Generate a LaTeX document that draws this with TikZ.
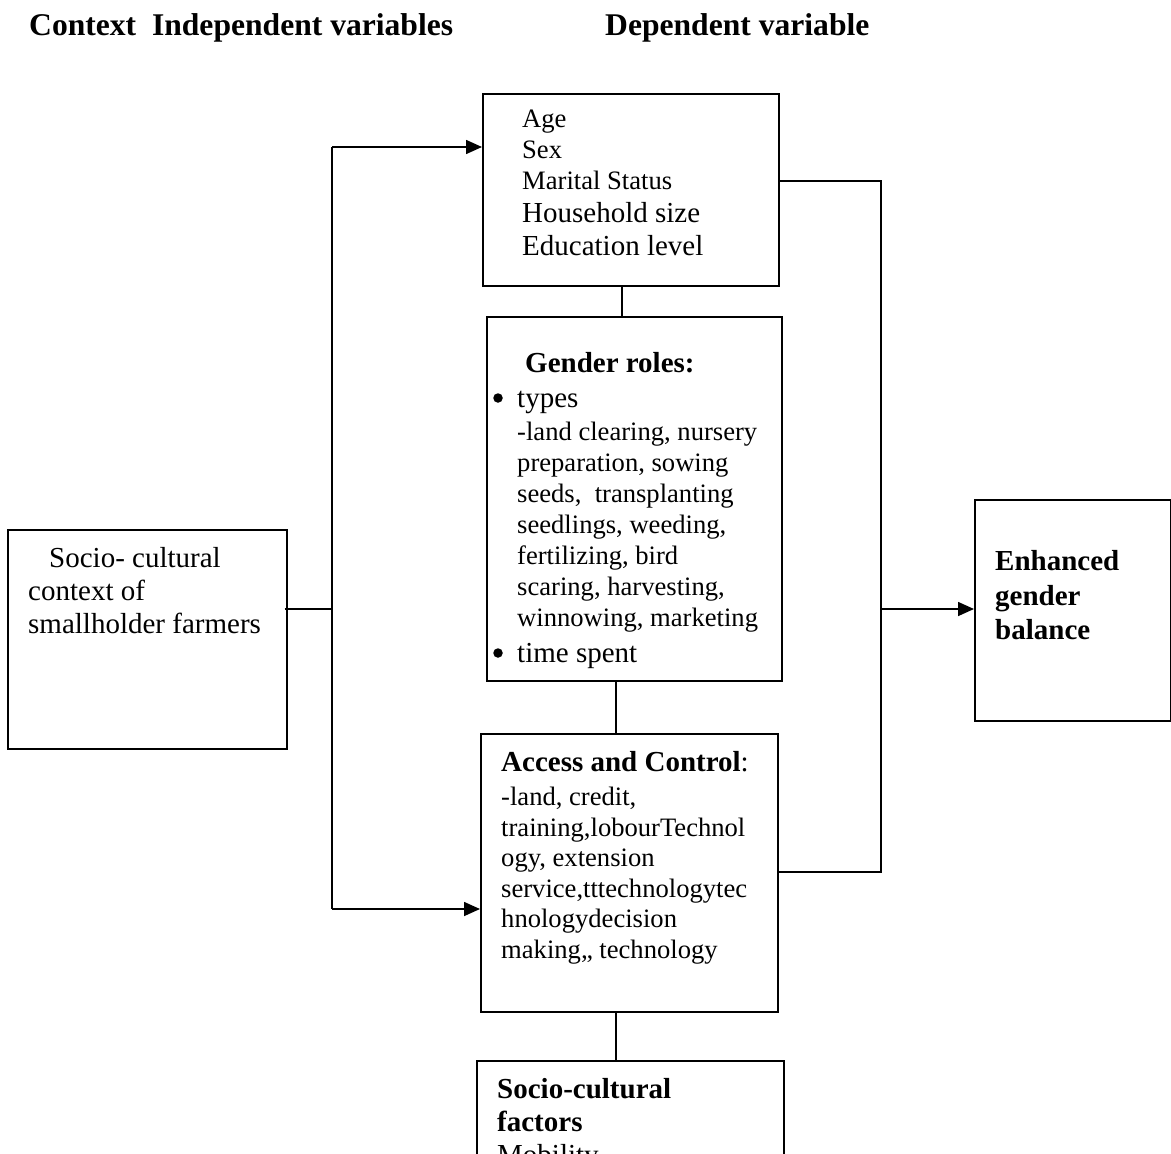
\documentclass[tikz,border=0pt]{standalone}
\usepackage{fontspec}
\setmainfont{Liberation Serif}
\usetikzlibrary{arrows.meta}
\tikzset{
  box/.style={draw, line width=1.6pt, rectangle, inner sep=0pt, anchor=north west},
  conn/.style={line width=1.6pt},
  arr/.style={line width=1.6pt, -{Triangle[length=16pt,width=14pt]}},
  txt/.style={anchor=base west, inner sep=0pt},
  bul/.style={circle, fill, inner sep=0pt, minimum size=9.5pt},
  fsmall/.style={font=\fontsize{26.6}{30.6}\selectfont},
  fnorm/.style={font=\fontsize{29}{33.4}\selectfont},
  fbold/.style={font=\fontsize{29}{33.4}\selectfont\bfseries},
  fhead/.style={font=\fontsize{31.6}{36}\selectfont\bfseries}
}
\begin{document}
\begin{tikzpicture}[x=1pt,y=-1pt]
\useasboundingbox (0,0) rectangle (1171,1154);
\clip (0,0) rectangle (1171,1154);
\fill[white] (0,0) rectangle (1171,1154);

% headers
\node[txt,fhead] (h1) at (29,35) {Context\ \ Independent variables};
\node[txt,fhead] (h2) at (605,35) {Dependent variable};

% boxes
\node[box, minimum width=279pt, minimum height=219pt] (L) at (7,529) {};
\node[box, minimum width=296pt, minimum height=192pt] (A) at (482,93) {};
\node[box, minimum width=295pt, minimum height=364pt] (B) at (486,316) {};
\node[box, minimum width=297pt, minimum height=278pt] (C) at (480,733) {};
\node[box, minimum width=307pt, minimum height=160pt] (D) at (476,1060) {};
\node[box, minimum width=196pt, minimum height=221pt] (E) at (974,499) {};

% left box text
\node[txt,fnorm] (l1) at (49,567) {Socio- cultural};
\node[txt,fnorm] (l2) at (28,600) {context of};
\node[txt,fnorm] (l3) at (28,633) {smallholder farmers};

% box A text
\node[txt,fsmall] (a1) at (522,127) {Age};
\node[txt,fsmall] (a2) at (522,158) {Sex};
\node[txt,fsmall] (a3) at (522,189) {Marital Status};
\node[txt,fnorm] (a4) at (522,222) {Household size};
\node[txt,fnorm] (a5) at (522,255) {Education level};

% box B text
\node[txt,fbold] (b0) at (525,372) {Gender roles:};
\node[bul] (b1) at (498,398) {};
\node[txt,fnorm] (b1t) at (517,407) {types};
\node[txt,fsmall] (b2) at (517,440) {-land clearing, nursery};
\node[txt,fsmall] (b3) at (517,471) {preparation, sowing};
\node[txt,fsmall] (b4) at (517,502) {seeds,\ \ transplanting};
\node[txt,fsmall] (b5) at (517,533) {seedlings, weeding,};
\node[txt,fsmall] (b6) at (517,564) {fertilizing, bird};
\node[txt,fsmall] (b7) at (517,595) {scaring, harvesting,};
\node[txt,fsmall] (b8) at (517,626) {winnowing, marketing};
\node[bul] (b9) at (498,653) {};
\node[txt,fnorm] (b9t) at (517,662) {time spent};

% box C text
\node[txt,fnorm] (c0) at (501,771) {\textbf{Access and Control}:};
\node[txt,fsmall] (c1) at (501,805) {-land, credit,};
\node[txt,fsmall] (c2) at (501,836) {training,lobourTechnol};
\node[txt,fsmall] (c3) at (501,866) {ogy, extension};
\node[txt,fsmall] (c4) at (501,897) {service,tttechnologytec};
\node[txt,fsmall] (c5) at (501,927) {hnologydecision};
\node[txt,fsmall] (c6) at (501,958) {making,, technology};

% box D text
\node[txt,fbold] (d1) at (497,1098) {Socio-cultural};
\node[txt,fbold] (d2) at (497,1131) {factors};
\node[txt,fnorm] (d3) at (497,1164) {Mobility};

% box E text
\node[txt,fbold] (e1) at (995,570) {Enhanced};
\node[txt,fbold] (e2) at (995,605) {gender};
\node[txt,fbold] (e3) at (995,639) {balance};

% connectors between stacked boxes
\coordinate (jAB) at (622,0);
\coordinate (jBC) at (616,0);
\draw[conn] (A.south -| jAB) -- (B.north -| jAB);
\draw[conn] (B.south -| jBC) -- (C.north -| jBC);
\draw[conn] (C.south -| jBC) -- (D.north -| jBC);

% left bracket
\coordinate (bl) at (332,609);
\coordinate (vt) at (332,147);
\coordinate (vb) at (332,909);
\draw[conn] ([xshift=-3pt]L.east |- bl) -- (bl);
\draw[conn] (vt) -- (vb);
\draw[arr] (vt) -- (A.west |- vt);
\draw[arr] (vb) -- (C.west |- vb);

% right bracket
\coordinate (rt) at (881,181);
\coordinate (rb) at (881,872);
\coordinate (rm) at (881,609);
\draw[conn] (A.east |- rt) -- (rt) -- (rb) -- (C.east |- rb);
\draw[arr] (rm) -- (E.west |- rm);
\end{tikzpicture}
\end{document}
